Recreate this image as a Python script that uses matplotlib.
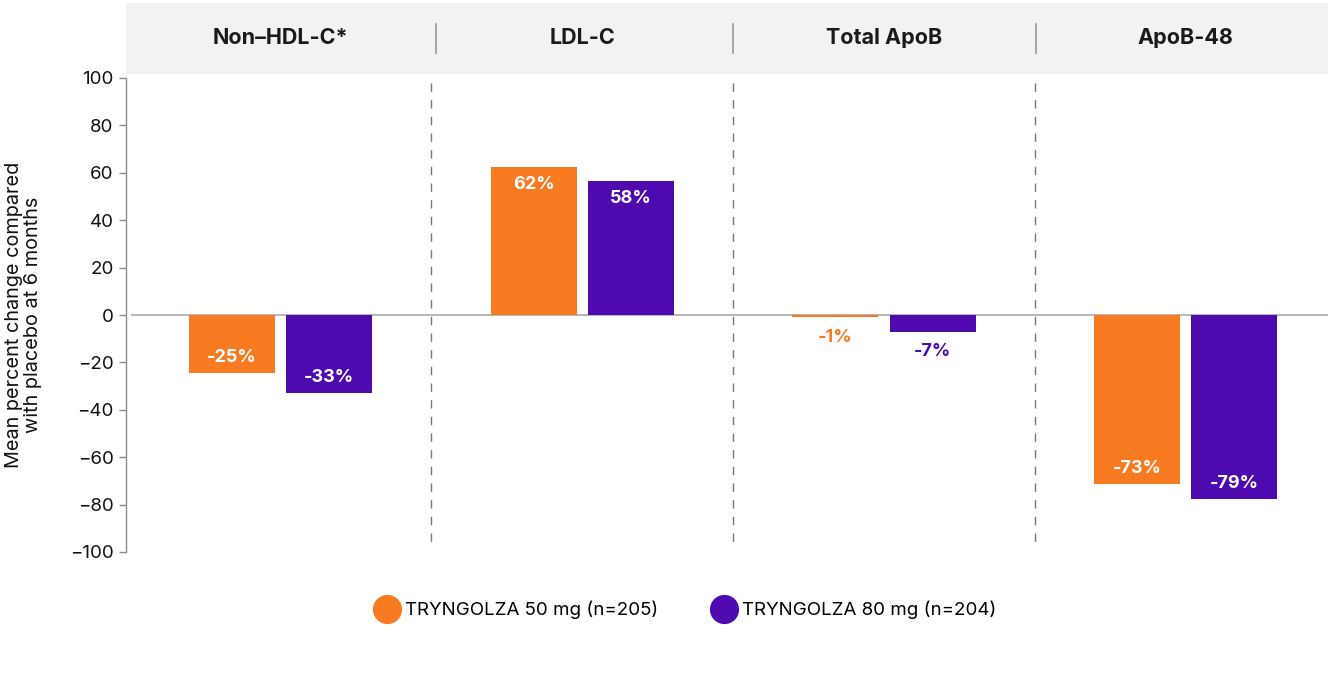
import matplotlib
matplotlib.use("Agg")
import matplotlib.pyplot as plt
import numpy as np
from matplotlib.lines import Line2D

plt.rcParams['font.family'] = ['Inter', 'DejaVu Sans']

categories = ["Non\u2013HDL-C*", "LDL-C", "Total ApoB", "ApoB-48"]
series_names = ["TRYNGOLZA 50 mg (n=205)", "TRYNGOLZA 80 mg (n=204)"]
values_50 = [-24.5, 62.4, -1.0, -71.3]
values_80 = [-32.8, 56.6, -7.0, -77.6]
labels_50 = ["-25%", "62%", "-1%", "-73%"]
labels_80 = ["-33%", "58%", "-7%", "-79%"]
yticks = [100, 80, 60, 40, 20, 0, -20, -40, -60, -80, -100]

ORANGE = "#F87B22"
PURPLE = "#4F0AAF"
GRID = "#8c8c8c"

fig = plt.figure(figsize=(13.28, 6.8), dpi=100)
W, H = 1328, 680
ax = fig.add_axes([126 / W, (H - 552) / H, 1 - 126 / W, (552 - 78) / H])
hax = fig.add_axes([126 / W, (H - 74) / H, 1 - 126 / W, 71 / H], sharex=ax)

x = np.arange(len(categories))
bw = 0.285
off = 0.161

b1 = ax.bar(x - off, values_50, bw, color=ORANGE, zorder=3)
b2 = ax.bar(x + off, values_80, bw, color=PURPLE, zorder=3)

ax.set_xlim(-0.512, 3.471)
ax.set_ylim(-100, 100)
ax.set_yticks(yticks)
ax.set_yticklabels([str(t).replace('-', '\u2212') for t in yticks], fontsize=13.5, color="#111111")
ax.tick_params(axis='y', length=5, width=1, color=GRID, pad=4)
ax.tick_params(axis='x', length=0, labelbottom=False)
for s in ['top', 'right', 'bottom']:
    ax.spines[s].set_visible(False)
ax.spines['left'].set_color(GRID)
ax.spines['left'].set_linewidth(1)

ax.axhline(0, xmin=0.005, xmax=1, color="#aaaaaa", lw=1.2, zorder=2)
for sx in [0.5, 1.5, 2.5]:
    ax.plot([sx, sx], [98, -98], color="#777777", lw=1, ls=(0, (6, 6)), zorder=1)

def put_labels(bars, vals, labs, color):
    for b, v, lab in zip(bars, vals, labs):
        cx = b.get_x() + b.get_width() / 2
        if abs(v) < 10:
            ax.text(cx, v - 8.5, lab, ha='center', va='center', fontsize=13,
                    fontweight='bold', color=color, zorder=4)
        elif v < 0:
            ax.text(cx, v + 6.5, lab, ha='center', va='center', fontsize=13,
                    fontweight='bold', color='white', zorder=4)
        else:
            ax.text(cx, v - 7.5, lab, ha='center', va='center', fontsize=13,
                    fontweight='bold', color='white', zorder=4)

put_labels(b1, values_50, labels_50, ORANGE)
put_labels(b2, values_80, labels_80, PURPLE)

ax.set_ylabel("Mean percent change compared\nwith placebo at 6 months", fontsize=14.3,
              color="#111111", linespacing=1.05)
ax.yaxis.set_label_coords(-(126 - 42) / (W - 126), 0.5)

# header
hax.set_facecolor("#f2f2f2")
hax.set_ylim(0, 1)
hax.tick_params(left=False, bottom=False, labelleft=False, labelbottom=False)
for s in hax.spines.values():
    s.set_visible(False)
for i, c in enumerate(categories):
    hax.text(i, 0.5, c, ha='center', va='center', fontsize=15.5, fontweight='bold', color="#1a1a1a")
for sx in [0.515, 1.5, 2.505]:
    hax.plot([sx, sx], [0.3, 0.7], color="#999999", lw=1.2)

handles = [Line2D([], [], marker='o', ls='none', markersize=20, markerfacecolor=ORANGE,
                  markeredgecolor=ORANGE),
           Line2D([], [], marker='o', ls='none', markersize=20, markerfacecolor=PURPLE,
                  markeredgecolor=PURPLE)]
fig.legend(handles, series_names, loc='center', bbox_to_anchor=(686 / W, 1 - 610 / H),
           ncol=2, frameon=False, fontsize=13.5, handletextpad=0.35, columnspacing=2.9,
           handlelength=1.2)

fig.savefig("out.png", dpi=100, facecolor='white')
